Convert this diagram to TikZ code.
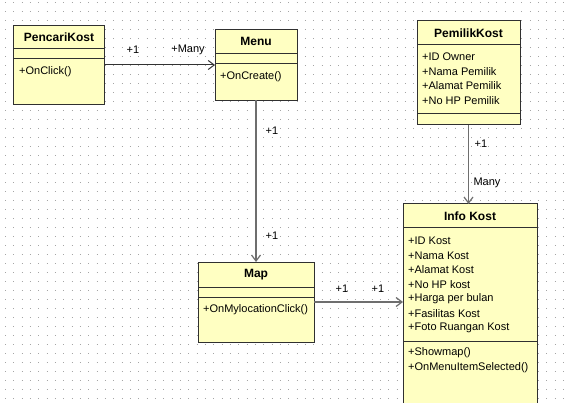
\documentclass[tikz,border=0pt]{standalone}
\usepackage{fontspec}
\setmainfont{Liberation Sans}
\usetikzlibrary{arrows.meta}
\definecolor{clsfill}{RGB}{255,255,194}
\definecolor{clsline}{RGB}{48,48,48}
\definecolor{conn}{RGB}{110,110,110}
\definecolor{conndark}{RGB}{50,50,50}
\definecolor{griddot}{RGB}{165,165,165}
\tikzset{
 cls/.style={draw=clsline, fill=clsfill, line width=1pt, inner sep=0pt, outer sep=0pt, anchor=north west},
 ctitle/.style={font=\fontsize{12}{14}\selectfont\bfseries, inner sep=0pt},
 member/.style={font=\fontsize{11}{13}\selectfont, anchor=west, inner sep=0pt},
 mult/.style={font=\fontsize{11}{13}\selectfont, inner sep=0pt},
 sepline/.style={draw=clsline, line width=1pt},
 assoc/.style={draw=conn, line width=1.2pt, -{Straight Barb[length=6pt,width=9pt]}},
}
\begin{document}
\begin{tikzpicture}[x=1pt,y=-1pt]
\useasboundingbox (0,0) rectangle (564,403);
\clip (0,0) rectangle (564,403);
\fill[white] (0,0) rectangle (564,403);
% dotted grid
\foreach \r in {0,...,44} {
  \draw[griddot, line width=1pt, dash pattern=on 1pt off 7.33pt] (5,{2.5+9*\r}) -- (564,{2.5+9*\r});
}

% PencariKost
\node[cls, minimum width=91pt, minimum height=79pt] (pencari) at (13.5,25.5) {};
\node[ctitle] (pencariT) at (59,37) {PencariKost};
\draw[sepline] (13.5,49) -- (104.5,49);
\draw[sepline] (13.5,59) -- (104.5,59);
\node[member] (pencariM1) at (19,72) {+OnClick()};

% Menu
\node[cls, minimum width=82pt, minimum height=71pt] (menu) at (215,29.5) {};
\node[ctitle] (menuT) at (256,41.5) {Menu};
\draw[sepline] (215,54) -- (297,54);
\draw[sepline] (215,64) -- (297,64);
\node[member] (menuM1) at (220,77) {+OnCreate()};

% Map
\node[cls, minimum width=116pt, minimum height=80pt] (map) at (198,262) {};
\node[ctitle] (mapT) at (256,274.5) {Map};
\draw[sepline] (198,287) -- (314,287);
\draw[sepline] (198,297) -- (314,297);
\node[member] (mapM1) at (203,309.5) {+OnMylocationClick()};

% PemilikKost
\node[cls, minimum width=103pt, minimum height=104pt] (pemilik) at (417,21) {};
\node[ctitle] (pemilikT) at (468.5,33) {PemilikKost};
\draw[sepline] (417,45) -- (520,45);
\node[member] (pemilikA1) at (422,57) {+ID Owner};
\node[member] (pemilikA2) at (422,71.5) {+Nama Pemilik};
\node[member] (pemilikA3) at (422,86) {+Alamat Pemilik};
\node[member] (pemilikA4) at (422,100.5) {+No HP Pemilik};
\draw[sepline] (417,114) -- (520,114);

% Info Kost
\node[cls, minimum width=134pt, minimum height=220pt] (info) at (403,204) {};
\node[ctitle] (infoT) at (470,216) {Info Kost};
\draw[sepline] (403,227.5) -- (537,227.5);
\node[member] (infoA1) at (408,241) {+ID Kost};
\node[member] (infoA2) at (408,255.5) {+Nama Kost};
\node[member] (infoA3) at (408,270) {+Alamat Kost};
\node[member] (infoA4) at (408,284.5) {+No HP kost};
\node[member] (infoA5) at (408,299) {+Harga per bulan};
\node[member] (infoA6) at (408,313.5) {+Fasilitas Kost};
\node[member] (infoA7) at (408,328) {+Foto Ruangan Kost};
\draw[sepline] (403,341) -- (537,341);
\node[member] (infoM1) at (408,353) {+Showmap()};
\node[member] (infoM2) at (408,367.5) {+OnMenuItemSelected()};

% connectors
\draw[assoc, draw=conndark, line width=1pt] (pencari.east) -- (pencari.east -| menu.west);
\draw[assoc] (menu.south) -- (map.north);
\draw[assoc] (map.east) -- (map.east -| info.west);
\draw[assoc] (pemilik.south) -- (pemilik.south |- info.north);

% multiplicities
\node[mult] (m1) at (133,49.5) {+1};
\node[mult] (m2) at (188,49.5) {+Many};
\node[mult] (m3) at (272,131) {+1};
\node[mult] (m4) at (272,236) {+1};
\node[mult] (m5) at (342,288.5) {+1};
\node[mult] (m6) at (378,288.5) {+1};
\node[mult] (m7) at (481,144) {+1};
\node[mult] (m8) at (487,183) {Many};
\end{tikzpicture}
\end{document}
